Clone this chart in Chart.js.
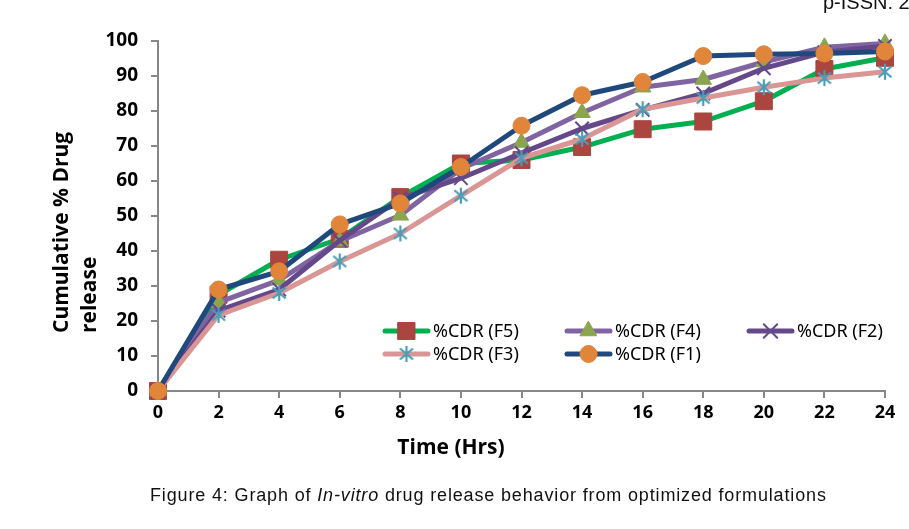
<!DOCTYPE html>
<html>
<head>
<meta charset="utf-8">
<script src="https://cdn.jsdelivr.net/npm/chart.js@4.4.1/dist/chart.umd.min.js"></script>
<style>
  html, body { margin: 0; padding: 0; background: #fff; overflow: hidden; }
  #wrap { position: relative; width: 909px; height: 529px; overflow: hidden; }
  #c { position: absolute; left: 0; top: 0; }
  #issn { position: absolute; left: 823px; top: -9px; font: 20px "Liberation Sans", Arial, sans-serif; color: #111; white-space: nowrap; }
  #cap { position: absolute; left: 150px; top: 485px; font: 18px "Liberation Sans", Arial, sans-serif; letter-spacing: 0.85px; color: #111; white-space: nowrap; }
</style>
</head>
<body>
<div id="wrap">
  <canvas id="c" width="909" height="529"></canvas>
  <div id="issn">p-ISSN: 24</div>
  <div id="cap">Figure 4: Graph of <i>In-vitro</i> drug release behavior from optimized formulations</div>
</div>
<script>
// ---- data ----
const times = [0, 2, 4, 6, 8, 10, 12, 14, 16, 18, 20, 22, 24];
const yTicks = [0, 10, 20, 30, 40, 50, 60, 70, 80, 90, 100];
const seriesLabels = ['%CDR (F5)', '%CDR (F4)', '%CDR (F2)', '%CDR (F3)', '%CDR (F1)'];
const f5 = [0, 27.5, 37.5, 43.5, 55.4, 65, 66, 69.7, 74.8, 77, 82.8, 92, 95.2];
const f4 = [0, 25.3, 31.7, 42.8, 50.2, 63.5, 71, 79.5, 86.8, 89, 94, 98.2, 99.3];
const f2 = [0, 23, 29, 43, 55, 60.8, 68, 75, 80.3, 85, 92.2, 96.8, 98.6];
const f3 = [0, 21.7, 28, 37, 45, 55.8, 66.5, 72, 80.5, 83.7, 86.8, 89.4, 91.2];
const f1 = [0, 29, 34.2, 47.6, 53.6, 64, 75.8, 84.5, 88.3, 95.7, 96.2, 96.4, 97];
const xTitle = 'Time (Hrs)';
const yTitle = ['Cumulative % Drug', 'release'];

// ---- asterisk marker ----
function asterisk(color) {
  const cv = document.createElement('canvas');
  cv.width = 18; cv.height = 18;
  const g = cv.getContext('2d');
  g.strokeStyle = color; g.lineWidth = 2.2; g.lineCap = 'butt';
  g.beginPath();
  g.moveTo(9, 1); g.lineTo(9, 17);
  g.moveTo(2.5, 3.5); g.lineTo(15.5, 14.5);
  g.moveTo(2.5, 14.5); g.lineTo(15.5, 3.5);
  g.stroke();
  return cv;
}

const seriesValues = [f5, f4, f2, f3, f1];
const styles = [
  { line: '#00B050', fill: '#AA4540', border: '#AA4540', ps: 'rect', r: 12, bw: 1, order: 4 },
  { line: '#8064A2', fill: '#8BA44E', border: '#8BA44E', ps: 'triangle', r: 9.5, bw: 1, order: 3 },
  { line: '#64488A', fill: '#64488A', border: '#64488A', ps: 'crossRot', r: 9.5, bw: 2, order: 2 },
  { line: '#D99694', fill: '#4A9DB8', border: '#4A9DB8', ps: asterisk('#4A9DB8'), r: 9, bw: 0, order: 1 },
  { line: '#1F497D', fill: '#E0853A', border: '#E0853A', ps: 'circle', r: 8.5, bw: 1, order: 0 }
];

const datasets = seriesValues.map((vals, i) => ({
  label: seriesLabels[i],
  data: vals,
  borderColor: styles[i].line,
  backgroundColor: styles[i].fill,
  borderWidth: 5,
  borderJoinStyle: 'round',
  tension: 0,
  pointStyle: styles[i].ps,
  pointRadius: styles[i].r,
  pointBackgroundColor: styles[i].fill,
  pointBorderColor: styles[i].border,
  pointBorderWidth: styles[i].bw,
  clip: false,
  order: styles[i].order
}));

// legend positions (style)
const legendPos = [
  { x: 383, y: 331 }, { x: 565, y: 331 }, { x: 747, y: 331 },
  { x: 383, y: 354 }, { x: 565, y: 354 }
];

const customDraw = {
  id: 'customDraw',
  afterDraw(chart) {
    const ctx = chart.ctx;
    // legend
    datasets.forEach((ds, i) => {
      const p = legendPos[i];
      ctx.save();
      ctx.strokeStyle = ds.borderColor;
      ctx.lineWidth = 5;
      ctx.lineCap = 'round';
      ctx.beginPath();
      ctx.moveTo(p.x + 2, p.y);
      ctx.lineTo(p.x + 45, p.y);
      ctx.stroke();
      ctx.fillStyle = ds.pointBackgroundColor;
      ctx.strokeStyle = ds.pointBorderColor;
      ctx.lineWidth = ds.pointBorderWidth;
      Chart.helpers.drawPoint(ctx, { pointStyle: ds.pointStyle, radius: ds.pointRadius, rotation: 0, borderWidth: ds.pointBorderWidth }, p.x + 23.5, p.y);
      ctx.fillStyle = '#000';
      ctx.font = '18px "Noto Sans", sans-serif';
      ctx.textAlign = 'left';
      ctx.textBaseline = 'middle';
      ctx.fillText(ds.label, p.x + 50, p.y + 1);
      ctx.restore();
    });
    // axis titles
    ctx.save();
    ctx.fillStyle = '#000';
    ctx.font = 'bold 21px "Open Sans", sans-serif';
    ctx.textAlign = 'center';
    ctx.textBaseline = 'middle';
    ctx.fillText(xTitle, 451, 448);
    ctx.restore();
    ctx.save();
    ctx.fillStyle = '#000';
    ctx.font = 'bold 21px "Open Sans", sans-serif';
    ctx.textAlign = 'left';
    ctx.textBaseline = 'middle';
    [62, 90].forEach((x, k) => {
      ctx.save();
      ctx.translate(x, 333);
      ctx.rotate(-Math.PI / 2);
      ctx.fillText(yTitle[k], 0, 0);
      ctx.restore();
    });
    ctx.restore();
  }
};

new Chart(document.getElementById('c'), {
  type: 'line',
  data: { labels: times, datasets },
  options: {
    responsive: false,
    animation: false,
    events: [],
    layout: { padding: { left: 0, right: 24, top: 41, bottom: 0 } },
    plugins: { legend: { display: false }, tooltip: { enabled: false } },
    scales: {
      x: {
        type: 'category',
        offset: false,
        grid: { display: true, drawOnChartArea: false, drawTicks: true, tickLength: 7, color: '#878787', lineWidth: 2 },
        border: { display: true, color: '#878787', width: 2 },
        ticks: { color: '#000', font: { family: '"Open Sans", sans-serif', size: 18, weight: 'bold' }, padding: 4, maxRotation: 0, autoSkip: false },
        afterFit(s) { s.height = 138; }
      },
      y: {
        min: 0, max: 100,
        afterBuildTicks(s) { s.ticks = yTicks.map(v => ({ value: v })); },
        grid: { display: true, drawOnChartArea: false, drawTicks: true, tickLength: 7, color: '#878787', lineWidth: 2 },
        border: { display: true, color: '#878787', width: 2 },
        ticks: { color: '#000', font: { family: '"Open Sans", sans-serif', size: 19, weight: 'bold' }, padding: 13 },
        afterFit(s) { s.width = 158; }
      }
    }
  },
  plugins: [customDraw]
});
</script>
</body>
</html>
